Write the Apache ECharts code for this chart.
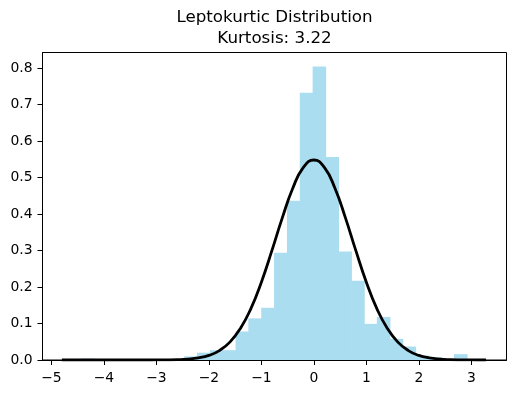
<!DOCTYPE html>
<html>
<head>
<meta charset="utf-8">
<script src="https://cdn.jsdelivr.net/npm/echarts@6/dist/echarts.min.js"></script>
<style>
html,body{margin:0;padding:0;background:#fff;}
#chart{width:516px;height:394px;}
</style>
</head>
<body>
<div id="chart"></div>
<script>
// Histogram bin edges (30 bins) and density heights
const binEdges = [-4.430,-4.185,-3.940,-3.696,-3.451,-3.206,-2.961,-2.716,-2.472,-2.227,-1.982,-1.737,-1.492,-1.248,-1.003,-0.758,-0.513,-0.268,-0.024,0.221,0.466,0.711,0.956,1.200,1.445,1.690,1.935,2.180,2.424,2.669,2.914];
const density = [0.004,0,0,0,0,0,0,0,0.010,0.020,0.027,0.027,0.078,0.114,0.143,0.294,0.436,0.732,0.804,0.556,0.297,0.217,0.099,0.118,0.058,0.037,0.012,0.008,0,0.016];
// Fitted normal curve
const curveX = [-4.8,-4.6,-4.4,-4.2,-4.0,-3.8,-3.6,-3.4,-3.2,-3.0,-2.8,-2.6,-2.4,-2.2,-2.0,-1.8,-1.6,-1.4,-1.2,-1.0,-0.8,-0.6,-0.4,-0.2,0,0.2,0.4,0.6,0.8,1.0,1.2,1.4,1.6,1.8,2.0,2.2,2.4,2.6,2.8,3.0,3.2,3.28];
const curveY = [0,0,0,0,0,0,0,0,0,0.0001,0.0003,0.0009,0.0024,0.0057,0.0126,0.0258,0.0490,0.0863,0.1409,0.2133,0.2996,0.3902,0.4712,0.5277,0.548,0.5277,0.4712,0.3902,0.2996,0.2133,0.1409,0.0863,0.0490,0.0258,0.0126,0.0057,0.0024,0.0009,0.0003,0.0001,0,0];
// Tick labels
const xTicks = [-5,-4,-3,-2,-1,0,1,2,3];
const titleLines = ['Leptokurtic Distribution','Kurtosis: 3.22'];

const histData = density.map((d, i) => [binEdges[i], binEdges[i+1], d]);
const lineData = curveX.map((x, i) => [x, curveY[i]]);
const FONT = 'DejaVu Sans';

const chart = echarts.init(document.getElementById('chart'), null, {renderer:'canvas'});
chart.setOption({
  animation: false,
  backgroundColor: '#fff',
  textStyle: {fontFamily: FONT},
  title: {
    text: titleLines.join('\n'),
    left: 274.5, top: 7.5, padding: 0, textAlign: 'center',
    textStyle: {fontFamily: FONT, fontSize: 16.7, fontWeight: 'normal', color: '#000', lineHeight: 21}
  },
  grid: {left: 42.5, right: 9.5, top: 52.5, bottom: 34, show: true, borderColor: '#000', borderWidth: 1, backgroundColor: 'transparent'},
  xAxis: {
    type: 'value', min: -5.17, max: 3.67,
    splitLine: {show: false},
    axisLine: {show: true, onZero: false, lineStyle: {color: '#000', width: 1}},
    axisTick: {show: true, length: 5, lineStyle: {color: '#000', width: 1}, customValues: xTicks},
    axisLabel: {customValues: xTicks, margin: 10, fontFamily: FONT, fontSize: 13.9, color: '#000', lineHeight: 16,
      formatter: v => String(v).replace('-', '\u2212')}
  },
  yAxis: {
    type: 'value', min: 0, max: 0.8425, interval: 0.1,
    splitLine: {show: false},
    axisLine: {show: true, onZero: false, lineStyle: {color: '#000', width: 1}},
    axisTick: {show: true, length: 5, lineStyle: {color: '#000', width: 1}},
    axisLabel: {margin: 10, fontFamily: FONT, fontSize: 13.9, color: '#000', showMaxLabel: false,
      formatter: v => v.toFixed(1)}
  },
  series: [
    {
      type: 'custom',
      data: histData,
      encode: {x: [0, 1], y: 2},
      renderItem: (params, api) => {
        const p0 = api.coord([api.value(0), api.value(2)]);
        const p1 = api.coord([api.value(1), 0]);
        return {type: 'rect', shape: {x: p0[0], y: p0[1], width: p1[0] - p0[0] + 0.7, height: p1[1] - p0[1]},
          style: {fill: '#ABDDF1'}};
      },
      z: 1
    },
    {
      type: 'line',
      data: lineData,
      showSymbol: false,
      smooth: 0.5,
      lineStyle: {color: '#000', width: 2.8},
      z: 3
    }
  ]
});
</script>
</body>
</html>
